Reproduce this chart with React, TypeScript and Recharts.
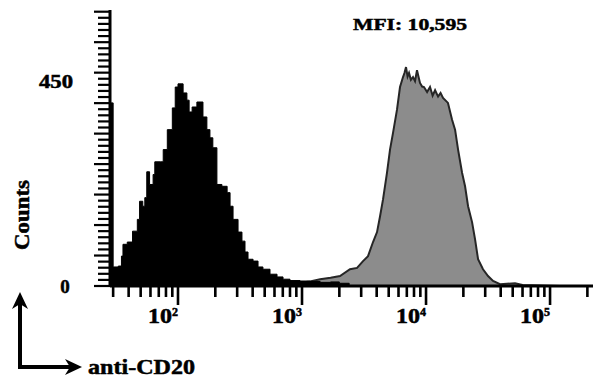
import { ComposedChart, Area, XAxis, YAxis } from 'recharts';

// ── Data ──────────────────────────────────────────────────────────────────────

// x ticks: minor every decade step, majors at the powers of ten
const xTicks = [
  30, 40, 50, 60, 70, 80, 90,
  100, 200, 300, 400, 500, 600, 700, 800, 900,
  1000, 2000, 3000, 4000, 5000, 6000, 7000, 8000, 9000,
  10000, 20000, 30000, 40000, 50000, 60000, 70000, 80000, 90000,
  100000, 200000,
];

// counts axis: 46 small ticks, every 5th long, two labels
const yStep = 13.45;
const yLabels = [0, 450];
const yTicks = [...Array.from({ length: 46 }, (_, k) => k * yStep), 450];

// unstained (black) histogram
const blackX = [
  28.5, 30, 33, 35, 36, 39, 43, 47, 49, 52, 54, 56, 59, 63, 65, 72, 76, 82, 90, 95,
  100, 110, 118, 123, 130, 142, 159, 171, 181, 191, 206, 226, 249, 263, 278, 305,
  328, 347, 367, 403, 442, 484, 552, 629, 703, 800, 964, 1160, 1400, 1700, 2000, 2400,
];
const blackCounts = [
  404, 42, 44, 66, 92, 97, 121, 147, 187, 176, 195, 252, 224, 246, 274, 274, 301, 345, 393, 439,
  446, 426, 410, 384, 395, 406, 373, 345, 327, 305, 224, 220, 206, 176, 147, 119,
  99, 75, 59, 55, 42, 37, 26, 20, 15, 12, 11, 10, 8, 9, 6, 0,
];

// anti-CD20 stained (grey) histogram
const greyX = [
  800, 1000, 1160, 1400, 1700, 2025, 2437, 2778, 3105, 3407, 3738, 4027, 4259, 4501,
  4846, 5124, 5418, 5834, 6169, 6523, 6700, 6897, 7100, 7293, 7550, 7853, 8150, 8456,
  8941, 9300, 9627, 10200, 10766, 11300, 11832, 12511, 13100, 13712, 15028, 16217,
  17147, 18131, 19524, 20644, 21829, 23505, 24855, 26281, 28803, 31623, 34710, 39513,
  52233, 60000, 120000,
];
const greyCounts = [
  4, 8, 10, 15, 18, 22, 37, 40, 55, 66, 97, 119, 154, 191,
  250, 301, 338, 389, 439, 461, 470, 483, 462, 470, 455, 461, 452, 476,
  448, 440, 439, 428, 439, 420, 432, 418, 426, 415, 404, 367,
  345, 301, 250, 220, 176, 141, 103, 59, 37, 22, 11, 4,
  6, 2, 0,
];

const blackData = blackX.map((x, i) => ({ x, c: blackCounts[i] }));
const greyData = greyX.map((x, i) => ({ x, c: greyCounts[i] }));

const FONT = '"Liberation Serif", "Times New Roman", serif';
const bold = { fontFamily: FONT, fontWeight: 'bold' as const, fill: '#000', stroke: '#000', strokeWidth: 0.5 };

// ── Ticks ─────────────────────────────────────────────────────────────────────

function XTick({ x, y, payload }: any) {
  const v = payload.value as number;
  const exp = Math.log10(v);
  const major = Math.abs(exp - Math.round(exp)) < 1e-6;
  return (
    <g>
      <line x1={x} x2={x} y1={y} y2={y + (major ? 19 : 11)} stroke="#000" strokeWidth={2.6} />
      {major && (
        <>
          <text
            {...bold}
            x={x - 6}
            y={y + 37}
            textAnchor="end"
            fontSize={20}
            textLength={24}
            lengthAdjust="spacingAndGlyphs"
          >
            10
          </text>
          <text {...bold} x={x - 6} y={y + 30} fontSize={12}>
            {Math.round(exp)}
          </text>
        </>
      )}
    </g>
  );
}

function YTick({ x, y, payload }: any) {
  const v = payload.value as number;
  if (v === 450) {
    return (
      <text
        {...bold}
        x={56}
        y={y + 6}
        textAnchor="middle"
        fontSize={18}
        textLength={34}
        lengthAdjust="spacingAndGlyphs"
      >
        {v}
      </text>
    );
  }
  const k = Math.round(v / yStep);
  const major = k % 5 === 0;
  return (
    <g>
      <line x1={x - (major ? 16 : 12)} x2={x} y1={y} y2={y} stroke="#000" strokeWidth={2.2} />
      {yLabels.includes(v) && (
        <text {...bold} x={65} y={y + 7} textAnchor="middle" fontSize={19}>
          {v}
        </text>
      )}
    </g>
  );
}

// ── Chart ─────────────────────────────────────────────────────────────────────

export default function App() {
  return (
    <div style={{ position: 'absolute', left: 0, top: 0, width: 593, height: 379, background: '#fff' }}>
      <ComposedChart width={593} height={379} margin={{ top: 10, right: 0, bottom: 0, left: 0 }}>
        <XAxis
          dataKey="x"
          type="number"
          scale="log"
          domain={[28.3, 222000]}
          allowDataOverflow
          ticks={xTicks}
          interval={0}
          height={93}
          tickSize={0}
          tickMargin={0}
          tickLine={false}
          tick={<XTick />}
          axisLine={{ stroke: '#000', strokeWidth: 3 }}
        />
        <YAxis
          type="number"
          domain={[0, 609]}
          allowDataOverflow
          ticks={yTicks}
          interval={0}
          width={110}
          tickSize={0}
          tickMargin={0}
          tickLine={false}
          tick={<YTick />}
          axisLine={{ stroke: '#000', strokeWidth: 3 }}
        />
        <Area
          data={greyData}
          dataKey="c"
          type="linear"
          fill="#8c8c8c"
          fillOpacity={1}
          stroke="#262626"
          strokeWidth={2}
          isAnimationActive={false}
        />
        <Area
          data={blackData}
          dataKey="c"
          type="stepAfter"
          fill="#000"
          fillOpacity={1}
          stroke="#000"
          strokeWidth={1}
          isAnimationActive={false}
        />

        <text {...bold} x={353} y={30} fontSize={17} textLength={114} lengthAdjust="spacingAndGlyphs">
          MFI: 10,595
        </text>
        <text
          {...bold}
          x={0}
          y={0}
          transform="translate(29 215) rotate(-90)"
          textAnchor="middle"
          fontSize={20}
          textLength={70}
          lengthAdjust="spacingAndGlyphs"
        >
          Counts
        </text>

        {/* axis direction arrows, bottom left */}
        <line x1={20} x2={20} y1={302} y2={369} stroke="#000" strokeWidth={4} />
        <polygon points="20,292 12,309 20,304 28,309" fill="#000" />
        <line x1={18} x2={72} y1={367} y2={367} stroke="#000" strokeWidth={4} />
        <polygon points="82,367 65,359 70,367 65,375" fill="#000" />
        <text {...bold} x={88} y={374} fontSize={21} textLength={107} lengthAdjust="spacingAndGlyphs">
          anti-CD20
        </text>
      </ComposedChart>
    </div>
  );
}
